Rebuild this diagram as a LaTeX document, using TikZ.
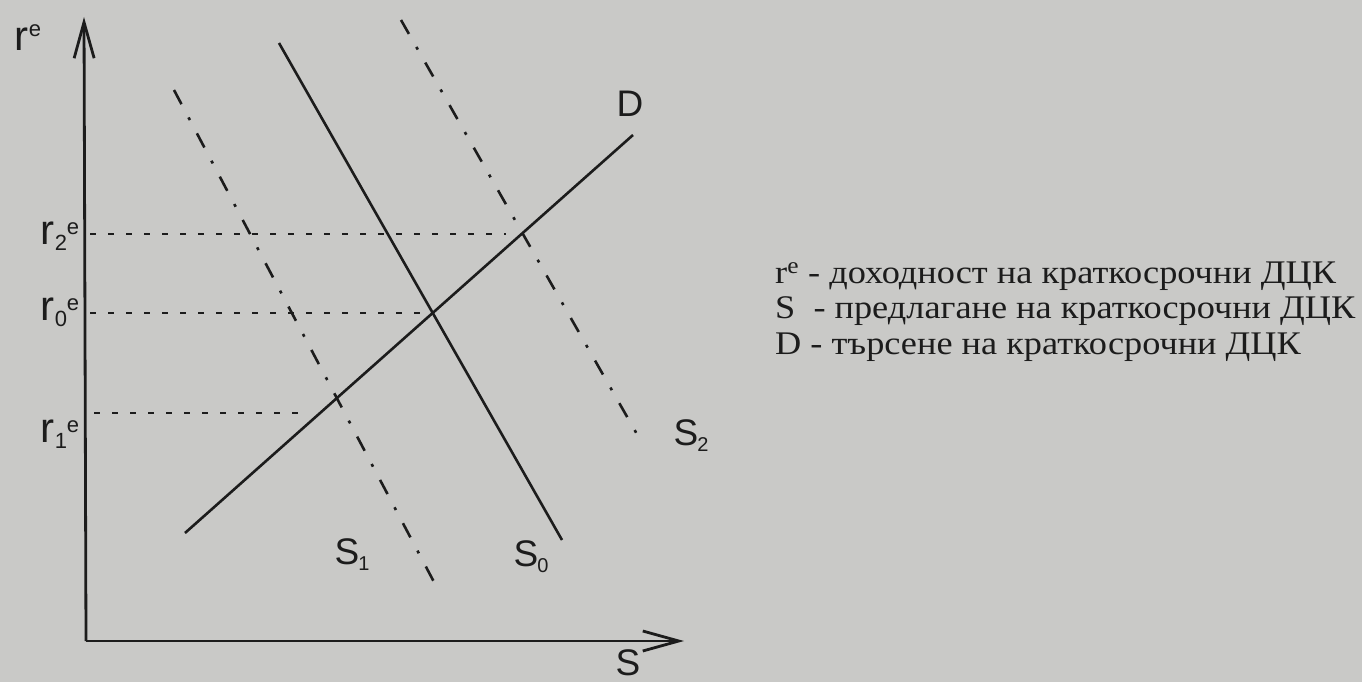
\documentclass[tikz,border=0pt]{standalone}
\usepackage{fontspec}
\setmainfont{Liberation Serif}
\newfontfamily\lblfont{Liberation Sans}
\newfontfamily\legendfont[FakeStretch=1.1]{Liberation Serif}
\usetikzlibrary{arrows.meta}
\definecolor{paper}{RGB}{201,201,199}
\definecolor{ink}{RGB}{28,28,28}
\newcommand\rlbl[1]{{\lblfont\fontsize{42}{42}\selectfont r\raisebox{-6pt}{\fontsize{22}{22}\selectfont #1}\raisebox{10pt}{\fontsize{22}{22}\selectfont e}}}
\newcommand\slbl[2]{{\lblfont\fontsize{37}{37}\selectfont #1\kern-1pt\raisebox{-6pt}{\fontsize{20}{20}\selectfont #2}}}
\tikzset{
  axis/.style={draw=ink,line width=2.8pt,-{Straight Barb[length=36pt,width=20pt,line width=2.8pt]}},
  solidcurve/.style={draw=ink,line width=2.6pt},
  dashdotcurve/.style={draw=ink,line width=2.6pt,dash pattern=on 16pt off 15pt on 3pt off 15pt},
  guide/.style={draw=ink,line width=2pt,dash pattern=on 6pt off 12pt},
  lbl/.style={text=ink,inner sep=0pt,anchor=center},
  legend/.style={text=ink,inner sep=0pt,anchor=base west,font=\legendfont\fontsize{33}{33}\selectfont}
}
\begin{document}
\begin{tikzpicture}[x=1pt,y=-1pt]
\fill[paper] (0,0) rectangle (1362,682);
\useasboundingbox (0,0) rectangle (1362,682);
% axes
\coordinate (O) at (86,641);
\coordinate (ytop) at (84,17);
\coordinate (xend) at (684,641);
\draw[axis] (O) -- (ytop);
\draw[axis] (O) -- (xend);
% curves
\coordinate (D1) at (185,533);
\coordinate (D2) at (633,135);
\coordinate (S0a) at (279,43);
\coordinate (S0b) at (562,540);
\coordinate (S1a) at (174,90);
\coordinate (S1b) at (434,582);
\coordinate (S2a) at (401,20);
\coordinate (S2b) at (642,443);
\draw[solidcurve] (D1) -- (D2);
\draw[solidcurve] (S0a) -- (S0b);
\draw[dashdotcurve] (S1a) -- (S1b);
\draw[dashdotcurve] (S2a) -- (S2b);
% guides
\coordinate (g2a) at (90,234);
\coordinate (g2b) at (506,234);
\coordinate (g0a) at (90,313);
\coordinate (g0b) at (428,313);
\coordinate (g1a) at (94,413);
\coordinate (g1b) at (305,413);
\draw[guide] (g2a) -- (g2b);
\draw[guide] (g0a) -- (g0b);
\draw[guide] (g1a) -- (g1b);
% labels
\node[lbl] (re) at (28,38) {{\lblfont\fontsize{42}{42}\selectfont r\raisebox{14pt}{\fontsize{22}{22}\selectfont e}}};
\node[lbl] (r2) at (60,236) {\rlbl{2}};
\node[lbl] (r0) at (60,312) {\rlbl{0}};
\node[lbl] (r1) at (60,434) {\rlbl{1}};
\node[lbl] (Sx) at (628,663) {{\lblfont\fontsize{37}{37}\selectfont S}};
\node[lbl] (Dl) at (630,104) {{\lblfont\fontsize{37}{37}\selectfont D}};
\node[lbl] (S1l) at (352,555) {\slbl{S}{1}};
\node[lbl] (S0l) at (531,557) {\slbl{S}{0}};
\node[lbl] (S2l) at (691,436) {\slbl{S}{2}};
% legend
\node[legend] (L1) at (775,283) {r\textsuperscript{e} - доходност на краткосрочни ДЦК};
\node[legend] (L2) at (775,318) {S\ \ - предлагане на краткосрочни ДЦК};
\node[legend] (L3) at (775,354) {D - търсене на краткосрочни ДЦК};
\end{tikzpicture}
\end{document}
